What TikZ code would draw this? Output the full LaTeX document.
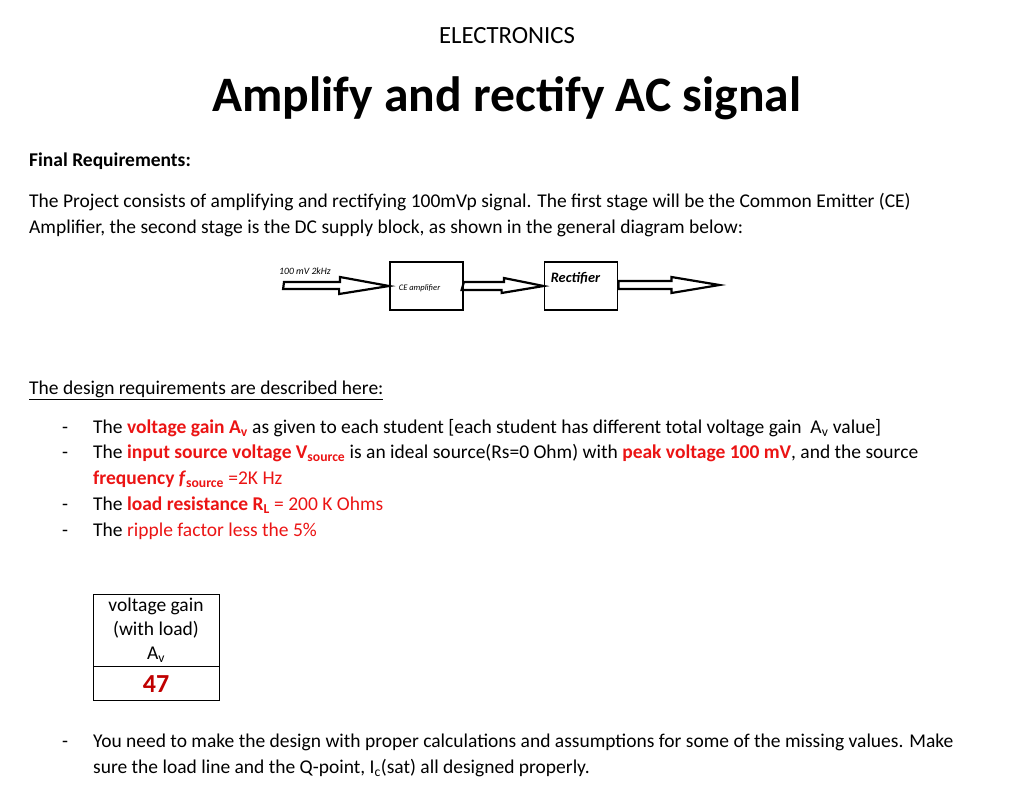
\documentclass[tikz,border=0pt]{standalone}
\usepackage{fontspec}
\setmainfont{Carlito}
\usetikzlibrary{positioning}
\definecolor{reqred}{RGB}{235,20,20}
\definecolor{valred}{RGB}{192,0,0}
\newcommand{\bodyfont}{\fontsize{19.5}{24}\selectfont}
\newcommand{\redbf}[1]{\textcolor{reqred}{\textbf{#1}}}
\tikzset{
  txt/.style={anchor=base west,inner sep=0pt,font=\bodyfont},
  blk/.style={draw,line width=1.8pt,minimum width=73pt,minimum height=48pt,inner sep=0pt},
  fat/.style={line width=2.2pt,line join=miter}
}
\begin{document}
\begin{tikzpicture}[x=1pt,y=-1pt]
\useasboundingbox (0,0) rectangle (1024,793);
\node[inner sep=0pt,font=\fontsize{24.7}{28}\selectfont] (head) at (507,36) {ELECTRONICS};
\node[inner sep=0pt,font=\fontsize{49.6}{56}\selectfont\bfseries] (title) at (507,98) {Amplify and rectify AC signal};
\node[txt,font=\bodyfont\bfseries] (final) at (29,166) {Final Requirements:};
\node[txt] (p1) at (29,207) {The Project consists of amplifying and rectifying 100mVp signal. The first stage will be the Common Emitter (CE)};
\node[txt] (p2) at (29,233) {Amplifier, the second stage is the DC supply block, as shown in the general diagram below:};
% block diagram
\node[blk] (ce) at (426.5,286) {};
\node[font=\fontsize{8.5}{9}\selectfont\itshape,inner sep=0pt] at (ce.center) [xshift=-7pt,yshift=-2pt] {CE amplifier};
\node[blk] (rect) at (581,286) {};
\node[font=\fontsize{14.4}{15}\selectfont\bfseries\itshape,inner sep=0pt,anchor=north west] at (rect.north west) [xshift=7pt,yshift=-11pt] {Rectifier};
\node[txt,font=\fontsize{9.7}{10}\selectfont\itshape] (src) at (279,274) {100 mV 2kHz};
\coordinate (in) at (284,286);
\draw[fat] (in)++(0,-4) -- ++(56,0) -- ++(0,-5) -- (ce.west) -- ++(-50,8) -- ++(0,-5) -- ++(-56,0) -- cycle;
\draw[fat] (ce.east)++(0,-4) -- ++(40,0) -- ++(0,-4) -- (rect.west) -- ++(-42,7) -- ++(0,-3) -- ++(-40,0) -- cycle;
\draw[fat] (rect.east)++(0,-5) -- ++(53,0) -- ++(0,-4) -- ++(48,8) -- ++(-48,8) -- ++(0,-4) -- ++(-53,0) -- cycle;
% requirements
\node[txt] (des) at (29,394) {\underline{The design requirements are described here:}};
\foreach \yy in {433,458,510,536,747} \node[txt] at (62,\yy) {-};
\node[txt] (b1) at (93,433) {The \redbf{voltage gain A\textsubscript{v}} as given to each student [each student has different total voltage gain\ \ A\textsubscript{v} value]};
\node[txt] (b2) at (93,458) {The \redbf{input source voltage V\textsubscript{source}} is an ideal source(Rs=0 Ohm) with \redbf{peak voltage 100 mV}, and the source};
\node[txt] (b2b) at (93,484) {\redbf{frequency \textit{f}\textsubscript{source}} \textcolor{reqred}{=2K Hz}};
\node[txt] (b3) at (93,510) {The \redbf{load resistance R\textsubscript{L}} \textcolor{reqred}{= 200 K Ohms}};
\node[txt] (b4) at (93,536) {The \textcolor{reqred}{ripple factor less the 5\%}};
% table
\draw[line width=0.8pt] (93,594) rectangle (219,700);
\draw[line width=0.8pt] (93,666) -- (219,666);
\node[inner sep=0pt,font=\bodyfont,align=center] (th) at (156,630) {voltage gain\\(with load)\\A\textsubscript{v}};
\node[inner sep=0pt,font=\fontsize{26}{28}\selectfont\bfseries,text=valred] (val) at (156,684) {47};
\node[txt] (b5) at (93,747) {You need to make the design with proper calculations and assumptions for some of the missing values. Make};
\node[txt] (b5b) at (93,773) {sure the load line and the Q-point, I\textsubscript{c}(sat) all designed properly.};
\end{tikzpicture}
\end{document}
